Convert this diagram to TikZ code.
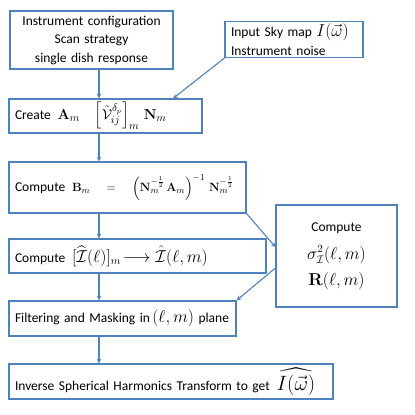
\documentclass[tikz,border=0pt]{standalone}
\usepackage{amsmath,amssymb}
\usepackage[no-math]{fontspec}
\setmainfont{Carlito}
\usepackage{tikz}

\definecolor{boxblue}{RGB}{79,129,189}
\newcommand{\mathsz}[1]{\fontsize{#1}{#1}\selectfont}

\begin{document}
\begin{tikzpicture}[x=1pt,y=-1pt,>=stealth,
    box/.style={draw=boxblue, line width=1.1pt, inner xsep=6pt, inner ysep=2pt,
      font=\fontsize{13.5}{16}\selectfont, align=left},
    arr/.style={->, draw=boxblue, line width=1.1pt}]
  \useasboundingbox (0,0) rectangle (415,415);
  \node[box, text width=151pt, minimum height=58pt, align=center,
    font=\fontsize{13.5}{18.5}\selectfont] (cfg) at (91.5,40)
    {Instrument configuration\\Scan strategy\\single dish response};
  \node[box, text width=126pt, minimum height=35pt,
    font=\fontsize{13.5}{16}\selectfont] (sky) at (294,39.5)
    {Input Sky map {\mathsz{18}$I(\vec{\omega})$}\\[3pt]Instrument noise};
  \node[box, text width=181pt, minimum height=34pt] (create) at (105.5,116)
    {Create\enspace{\mathsz{15}$\mathbf{A}_m\quad
      \Big[\tilde{\mathcal{V}}_{ij}^{\delta_p}\Big]_m\ \mathbf{N}_m$}};
  \node[box, text width=225pt, minimum height=51pt] (bmat) at (127.5,187.5)
    {Compute\enspace{\mathsz{13}$\mathbf{B}_m\quad=\quad
      \left(\mathbf{N}_m^{-\frac{1}{2}}\,\mathbf{A}_m\right)^{-1}\,
      \mathbf{N}_m^{-\frac{1}{2}}$}};
  \node[box, text width=245pt, minimum height=34pt] (ihat) at (137.5,256)
    {Compute\enspace{\mathsz{16}$[\widehat{\mathcal{I}}(\ell)]_m\!\longrightarrow
      \hat{\mathcal{I}}(\ell,m)$}};
  \node[box, text width=109pt, minimum height=102pt, align=center,
    font=\fontsize{13.5}{22}\selectfont] (sigma) at (336.5,256)
    {Compute\\[6pt]{\mathsz{16}$\sigma^2_{\mathcal{I}}(\ell,m)$}\\[4pt]{\mathsz{16}$\mathbf{R}(\ell,m)$}\\[6pt]};
  \node[box, text width=215pt, minimum height=35pt] (filt) at (122.5,318.5)
    {Filtering and Masking in\,{\mathsz{17}$(\ell,m)$} plane};
  \node[box, text width=312pt, minimum height=35pt] (invsht) at (171,381.5)
    {Inverse Spherical Harmonics Transform to get\enspace
      {\mathsz{22}$\widehat{I(\vec{\omega})}$}};
  \coordinate (spine) at (99,0);
  \coordinate (skyin) at (173,0);
  \draw[arr] (cfg.south -| spine) -- (create.north -| spine);
  \draw[arr] (sky.south west) -- (create.north -| skyin);
  \draw[arr] (create.south -| spine) -- (bmat.north -| spine);
  \draw[arr] (bmat.south -| spine) -- (ihat.north -| spine);
  \draw[arr] (ihat.south -| spine) -- (filt.north -| spine);
  \draw[arr] (filt.south -| spine) -- (invsht.north -| spine);
  \draw[arr] (bmat.south east) -- ([yshift=9pt]sigma.west);
  \draw[arr] ([yshift=-12pt]sigma.west) -- (filt.north east);
\end{tikzpicture}
\end{document}
